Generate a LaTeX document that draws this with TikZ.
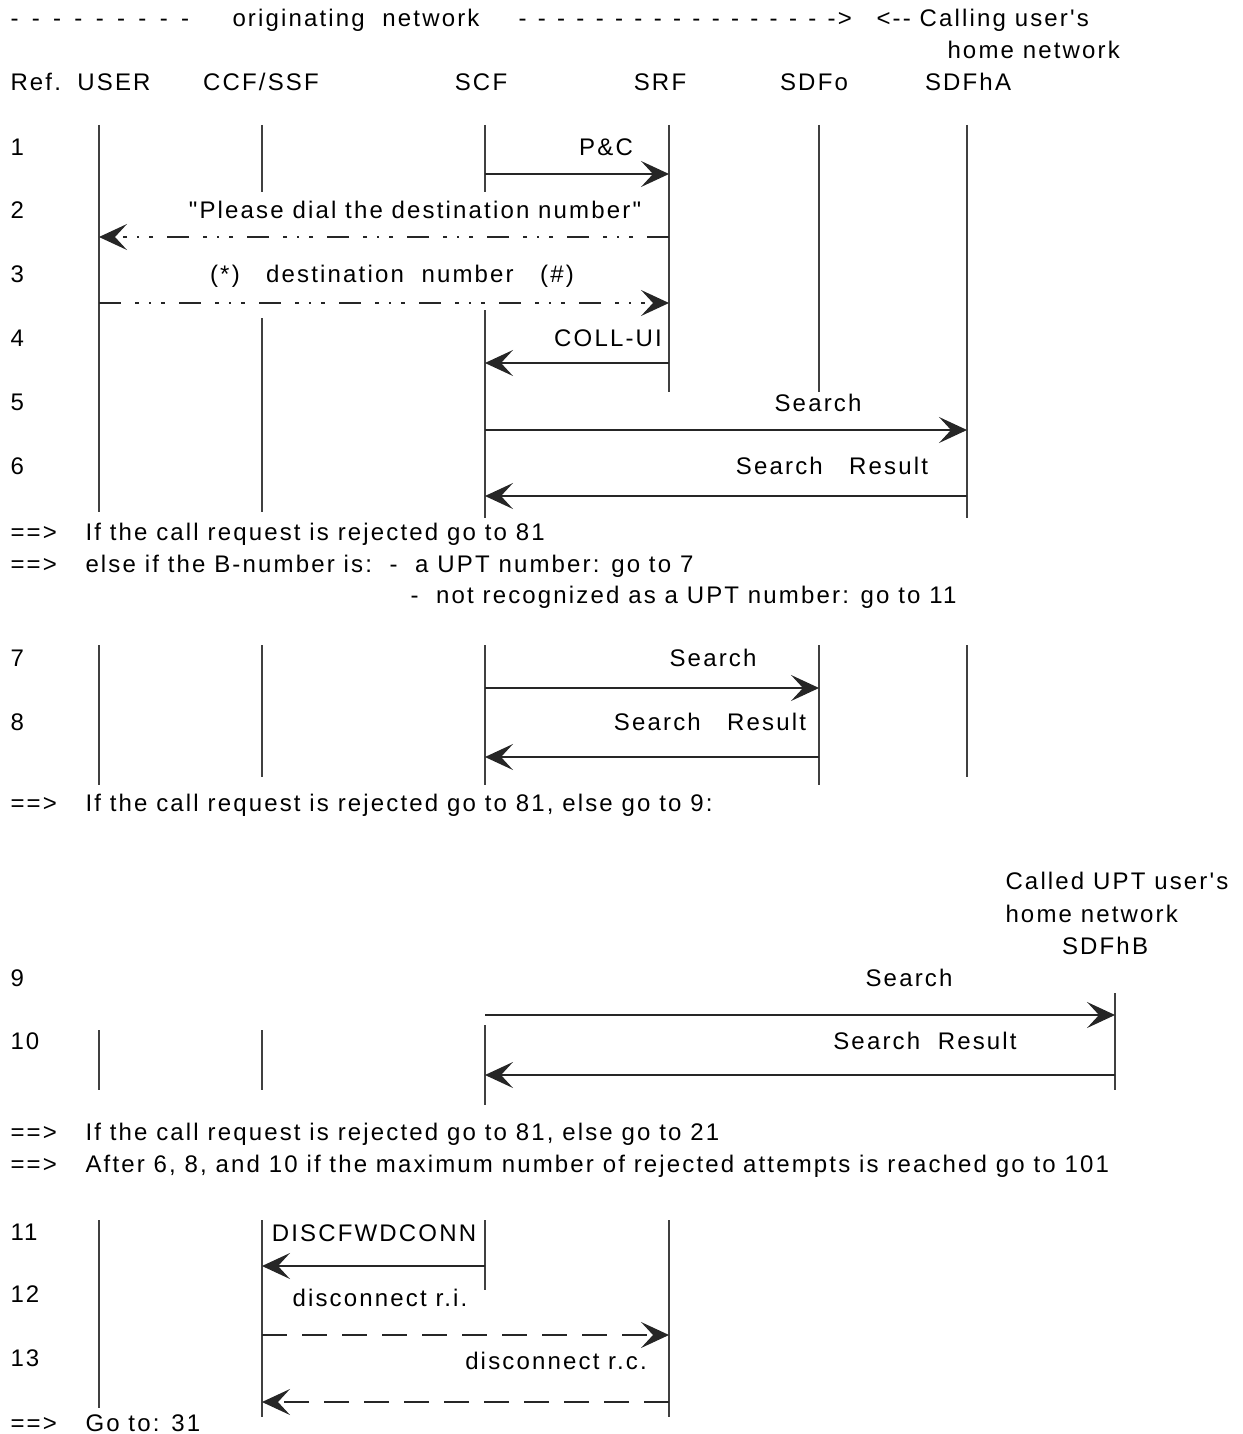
\documentclass[tikz,border=0pt]{standalone}
\usepackage{fontspec}
\setmainfont{Liberation Sans}[LetterSpace=9,Ligatures=TeXOff]
\usetikzlibrary{arrows.meta}
\tikzset{every picture/.style={line width=0.75pt}}

\begin{document}
\begin{tikzpicture}[x=0.75pt,y=0.75pt,yscale=-1,xscale=1,
  every node/.style={font=\fontsize{18}{21}\selectfont,inner sep=0pt},
  txt/.style={anchor=base west},
  lbl/.style={anchor=base},
  life/.style={draw=black!75,line width=0.9pt},
  msg/.style={draw=black!85,line width=0.9pt,-{Stealth[length=21pt,width=19.5pt,inset=9pt]}},
  dashdot/.style={dash pattern=on 16.5pt off 10.5pt on 3pt off 7.5pt on 1.5pt off 7.5pt on 3pt off 10.5pt},
  dashline/.style={dash pattern=on 18.75pt off 11.25pt}]
\useasboundingbox (0,0) rectangle (1242,1434);

% Text Node
\node[txt] (dashA) at (10,27) {-\hspace{10pt}-\hspace{10pt}-\hspace{10pt}-\hspace{10pt}-\hspace{10pt}-\hspace{10pt}-\hspace{10pt}-\hspace{10pt}-};
\node[txt] (orig) at (232,27) {originating\ \ network};
\node[txt] (dashB) at (518,27) {-\hspace{8.5pt}-\hspace{8.5pt}-\hspace{8.5pt}-\hspace{8.5pt}-\hspace{8.5pt}-\hspace{8.5pt}-\hspace{8.5pt}-\hspace{8.5pt}-\hspace{8.5pt}-\hspace{8.5pt}-\hspace{8.5pt}-\hspace{8.5pt}-\hspace{8.5pt}-\hspace{8.5pt}-\hspace{8.5pt}-\hspace{8.5pt}->};
\node[txt] (calling) at (876,27) {<-- Calling user's};
\node[txt] (homeA) at (947,59) {home network};

% Text Node
\node[txt] (ref) at (10,91) {Ref.};
\node[lbl] (hUSER) at (114,91) {USER};
\node[lbl] (hCCF) at (261,91) {CCF/SSF};
\node[lbl] (hSCF) at (481,91) {SCF};
\node[lbl] (hSRF) at (660,91) {SRF};
\node[lbl] (hSDFo) at (814,91) {SDFo};
\node[lbl] (hSDFhA) at (968,91) {SDFhA};

% Text Node
\node[txt] (r1) at (10,156) {1};
\node[txt] (r2) at (10,219) {2};
\node[txt] (r3) at (10,282) {3};
\node[txt] (r4) at (10,346) {4};
\node[txt] (r5) at (10,410) {5};
\node[txt] (r6) at (10,474) {6};

%Straight Lines
\coordinate (userT1) at (99,125); \coordinate (userB1) at (99,512);
\coordinate (ccfT1) at (262,125); \coordinate (ccfM1) at (262,192);
\coordinate (ccfN1) at (262,318); \coordinate (ccfB1) at (262,512);
\coordinate (scfT1) at (485,125); \coordinate (scfM1) at (485,192);
\coordinate (scfN1) at (485,310); \coordinate (scfB1) at (485,518);
\coordinate (srfT1) at (669,125); \coordinate (srfB1) at (669,392);
\coordinate (sdfoT1) at (819,125); \coordinate (sdfoB1) at (819,392);
\coordinate (sdfhaT1) at (967,125); \coordinate (sdfhaB1) at (967,518);
\draw[life] (userT1) -- (userB1);
\draw[life] (ccfT1) -- (ccfM1);
\draw[life] (ccfN1) -- (ccfB1);
\draw[life] (scfT1) -- (scfM1);
\draw[life] (scfN1) -- (scfB1);
\draw[life] (srfT1) -- (srfB1);
\draw[life] (sdfoT1) -- (sdfoB1);
\draw[life] (sdfhaT1) -- (sdfhaB1);

%Straight Lines
\coordinate (m1s) at (485,174); \coordinate (m1e) at (669,174);
\coordinate (m2s) at (669,237); \coordinate (m2e) at (99,237);
\coordinate (m3s) at (99,303); \coordinate (m3e) at (669,303);
\coordinate (m4s) at (669,363); \coordinate (m4e) at (485,363);
\coordinate (m5s) at (485,430); \coordinate (m5e) at (967,430);
\coordinate (m6s) at (967,496); \coordinate (m6e) at (485,496);
\draw[msg] (m1s) -- (m1e);
\draw[msg,dashdot] (m2s) -- (m2e);
\draw[msg,dashdot] (m3s) -- (m3e);
\draw[msg] (m4s) -- (m4e);
\draw[msg] (m5s) -- (m5e);
\draw[msg] (m6s) -- (m6e);

% Text Node
\node[lbl] (pc) at (606,156) {P\&C};
\node[lbl] (dial) at (415,219) {"Please dial the destination number"};
\node[lbl] (dest) at (392,282) {(*)\ \ \ destination\ \ number\ \ \ (\#)};
\node[lbl] (collui) at (608,346) {COLL-UI};
\node[lbl] (search5) at (818,411) {Search};
\node[lbl] (result6) at (832,474) {Search\ \ \ Result};

% Text Node
\node[txt] (goA) at (10,540) {==>};
\node[txt] (rejA) at (85,540) {If the call request is rejected go to 81};
\node[txt] (goB) at (10,572) {==>};
\node[txt] (elseB) at (85,572) {else if the B-number is:\ \ -\ \ a UPT number: go to 7};
\node[txt] (notrec) at (410,603) {-\ \ not recognized as a UPT number: go to 11};

% Text Node
\node[txt] (r7) at (10,666) {7};
\node[txt] (r8) at (10,730) {8};

%Straight Lines
\coordinate (userT2) at (99,645); \coordinate (userB2) at (99,785);
\coordinate (ccfT2) at (262,645); \coordinate (ccfB2) at (262,777);
\coordinate (scfT2) at (485,645); \coordinate (scfB2) at (485,785);
\coordinate (sdfoT2) at (819,645); \coordinate (sdfoB2) at (819,785);
\coordinate (sdfhaT2) at (967,645); \coordinate (sdfhaB2) at (967,777);
\draw[life] (userT2) -- (userB2);
\draw[life] (ccfT2) -- (ccfB2);
\draw[life] (scfT2) -- (scfB2);
\draw[life] (sdfoT2) -- (sdfoB2);
\draw[life] (sdfhaT2) -- (sdfhaB2);

%Straight Lines
\coordinate (m7s) at (485,688); \coordinate (m7e) at (819,688);
\coordinate (m8s) at (819,757); \coordinate (m8e) at (485,757);
\draw[msg] (m7s) -- (m7e);
\draw[msg] (m8s) -- (m8e);

% Text Node
\node[lbl] (search7) at (713,666) {Search};
\node[lbl] (result8) at (710,730) {Search\ \ \ Result};
\node[txt] (goC) at (10,811) {==>};
\node[txt] (rejC) at (85,811) {If the call request is rejected go to 81, else go to 9:};

% Text Node
\node[txt] (calledB) at (1005,889) {Called UPT user's};
\node[txt] (homeB) at (1005,922) {home network};
\node[lbl] (hSDFhB) at (1105,954) {SDFhB};
\node[txt] (r9) at (10,986) {9};
\node[txt] (r10) at (10,1049) {10};

%Straight Lines
\coordinate (userT3) at (99,1030); \coordinate (userB3) at (99,1090);
\coordinate (ccfT3) at (262,1030); \coordinate (ccfB3) at (262,1090);
\coordinate (scfT3) at (485,1025); \coordinate (scfB3) at (485,1105);
\coordinate (sdfhbT3) at (1115,993); \coordinate (sdfhbB3) at (1115,1090);
\draw[life] (userT3) -- (userB3);
\draw[life] (ccfT3) -- (ccfB3);
\draw[life] (scfT3) -- (scfB3);
\draw[life] (sdfhbT3) -- (sdfhbB3);

%Straight Lines
\coordinate (m9s) at (485,1015); \coordinate (m9e) at (1115,1015);
\coordinate (m10s) at (1115,1075); \coordinate (m10e) at (485,1075);
\draw[msg] (m9s) -- (m9e);
\draw[msg] (m10s) -- (m10e);

% Text Node
\node[lbl] (search9) at (909,986) {Search};
\node[lbl] (result10) at (925,1049) {Search\ \ Result};
\node[txt] (goD) at (10,1140) {==>};
\node[txt] (rejD) at (85,1140) {If the call request is rejected go to 81, else go to 21};
\node[txt] (goE) at (10,1172) {==>};
\node[txt] (after) at (85,1172) {After 6, 8, and 10 if the maximum number of rejected attempts is reached go to 101};

% Text Node
\node[txt] (r11) at (10,1240) {11};
\node[txt] (r12) at (10,1302) {12};
\node[txt] (r13) at (10,1366) {13};

%Straight Lines
\coordinate (userT4) at (99,1220); \coordinate (userB4) at (99,1408);
\coordinate (ccfT4) at (262,1220); \coordinate (ccfB4) at (262,1417);
\coordinate (scfT4) at (485,1220); \coordinate (scfB4) at (485,1290);
\coordinate (srfT4) at (669,1220); \coordinate (srfB4) at (669,1417);
\draw[life] (userT4) -- (userB4);
\draw[life] (ccfT4) -- (ccfB4);
\draw[life] (scfT4) -- (scfB4);
\draw[life] (srfT4) -- (srfB4);

%Straight Lines
\coordinate (m11s) at (485,1266); \coordinate (m11e) at (262,1266);
\coordinate (m12s) at (262,1335); \coordinate (m12e) at (669,1335);
\coordinate (m13s) at (669,1402); \coordinate (m13e) at (262,1402);
\draw[msg] (m11s) -- (m11e);
\draw[msg,dashline] (m12s) -- (m12e);
\draw[msg,dashline] (m13s) -- (m13e);

% Text Node
\node[lbl] (discfwd) at (374,1241) {DISCFWDCONN};
\node[lbl] (discri) at (380,1306) {disconnect r.i.};
\node[lbl] (discrc) at (556,1369) {disconnect r.c.};
\node[txt] (goF) at (10,1431) {==>};
\node[txt] (gotoF) at (85,1431) {Go to: 31};

\end{tikzpicture}
\end{document}
